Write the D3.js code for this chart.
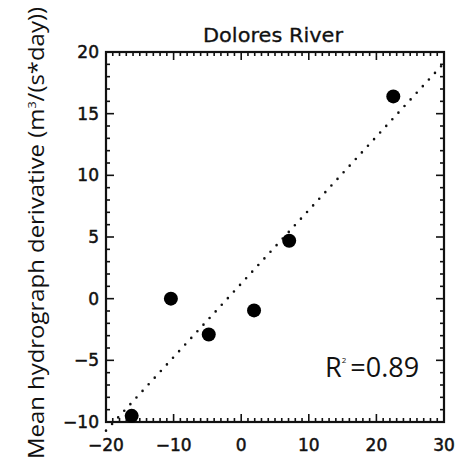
<!DOCTYPE html>
<html>
<head>
<meta charset="utf-8">
<script src="https://cdn.jsdelivr.net/npm/d3@7"></script>
<style>
  body { margin: 0; background: #fff; }
  svg text { fill: #111; }
</style>
</head>
<body>
<div id="ChartDiv"></div>
<script>
// observed points (x, mean hydrograph derivative)
const xVals = [-16.2, -10.4, -4.8, 1.9, 7.1, 22.5];
const yVals = [-9.5, 0.0, -2.9, -0.95, 4.7, 16.4];
// fitted line
const fitX = [-20, 30];
const fitY = [-10.7, 19.1];
const xTicks = [-20, -10, 0, 10, 20, 30];
const yTicks = [-10, -5, 0, 5, 10, 15, 20];
const title = "Dolores River";
const r2Label = "0.89";

function createViz() {
    const W = 462, H = 469;
    const margin = {top: 52, right: 18, bottom: 47, left: 106};

    const svg = d3.select("#ChartDiv").append("svg")
        .attr("width", W)
        .attr("height", H);

    const x = d3.scaleLinear().domain([-20, 30]).range([margin.left, W - margin.right]);
    const y = d3.scaleLinear().domain([-10, 20]).range([H - margin.bottom, margin.top]);

    // minor + major ticks on all four sides, pointing inward
    const minorX = d3.range(-20, 31, 1);
    const minorY = d3.range(-10, 21, 1);
    const g = svg.append("g").attr("stroke", "#111").attr("stroke-width", 1.6);
    minorX.forEach(v => {
        const len = v % 10 === 0 ? 8 : 4;
        g.append("line").attr("x1", x(v)).attr("x2", x(v)).attr("y1", y(-10)).attr("y2", y(-10) - len);
        g.append("line").attr("x1", x(v)).attr("x2", x(v)).attr("y1", y(20)).attr("y2", y(20) + len);
    });
    minorY.forEach(v => {
        const len = v % 5 === 0 ? 8 : 4;
        g.append("line").attr("y1", y(v)).attr("y2", y(v)).attr("x1", x(-20)).attr("x2", x(-20) + len);
        g.append("line").attr("y1", y(v)).attr("y2", y(v)).attr("x1", x(30)).attr("x2", x(30) - len);
    });

    // frame
    svg.append("rect")
        .attr("x", x(-20)).attr("y", y(20))
        .attr("width", x(30) - x(-20)).attr("height", y(-10) - y(20))
        .attr("fill", "none").attr("stroke", "#111").attr("stroke-width", 2.2);

    // tick labels
    const fmt = v => (v < 0 ? "\u2212" + Math.abs(v) : String(v));
    const tickStyle = sel => sel
        .style("font-family", "DejaVu Sans").style("font-size", "17px")
        .style("stroke", "#111").style("stroke-width", 0.5);
    svg.append("g").selectAll("text").data(xTicks).join("text")
        .attr("x", d => x(d)).attr("y", y(-10) + 29)
        .attr("text-anchor", "middle")
        .call(tickStyle)
        .text(fmt);
    svg.append("g").selectAll("text").data(yTicks).join("text")
        .attr("x", x(-20) - 7).attr("y", d => y(d) + 6)
        .attr("text-anchor", "end")
        .call(tickStyle)
        .text(fmt);

    // title
    svg.append("text")
        .attr("x", 273).attr("y", 42)
        .attr("text-anchor", "middle")
        .attr("textLength", 140).attr("lengthAdjust", "spacingAndGlyphs")
        .style("font-family", "DejaVu Sans").style("font-size", "20px")
        .style("stroke", "#111").style("stroke-width", 0.3)
        .text(title);

    // y axis label
    const yl = svg.append("text")
        .attr("transform", "translate(44," + 233 + ") rotate(-90)")
        .attr("text-anchor", "middle")
        .attr("textLength", 452).attr("lengthAdjust", "spacingAndGlyphs")
        .style("font-family", "Open Sans").style("font-size", "21px");
    yl.append("tspan").text("Mean hydrograph derivative (m");
    yl.append("tspan").attr("dy", -8).style("font-size", "11px").text("3");
    yl.append("tspan").attr("dy", 8).text("/(s*day))");

    // dotted fit line
    const line = d3.line().x(d => x(d[0])).y(d => y(d[1]));
    svg.append("path")
        .datum(d3.zip(fitX, fitY))
        .attr("d", line)
        .attr("fill", "none").attr("stroke", "#111")
        .attr("stroke-width", 2.6).attr("stroke-linecap", "round")
        .attr("stroke-dasharray", "0 9");

    // points
    svg.append("g").selectAll("circle").data(d3.zip(xVals, yVals)).join("circle")
        .attr("cx", d => x(d[0])).attr("cy", d => y(d[1]))
        .attr("r", 7).attr("fill", "#000");

    // R^2
    const r2 = svg.append("text")
        .attr("x", 325).attr("y", 377)
        .style("font-family", "Open Sans").style("font-size", "27px");
    r2.append("tspan").text("R");
    r2.append("tspan").attr("dy", -14).style("font-size", "8px").text("2");
    r2.append("tspan").attr("dy", 14).attr("dx", 4).text("=" + r2Label);
}

createViz();
</script>
</body>
</html>
